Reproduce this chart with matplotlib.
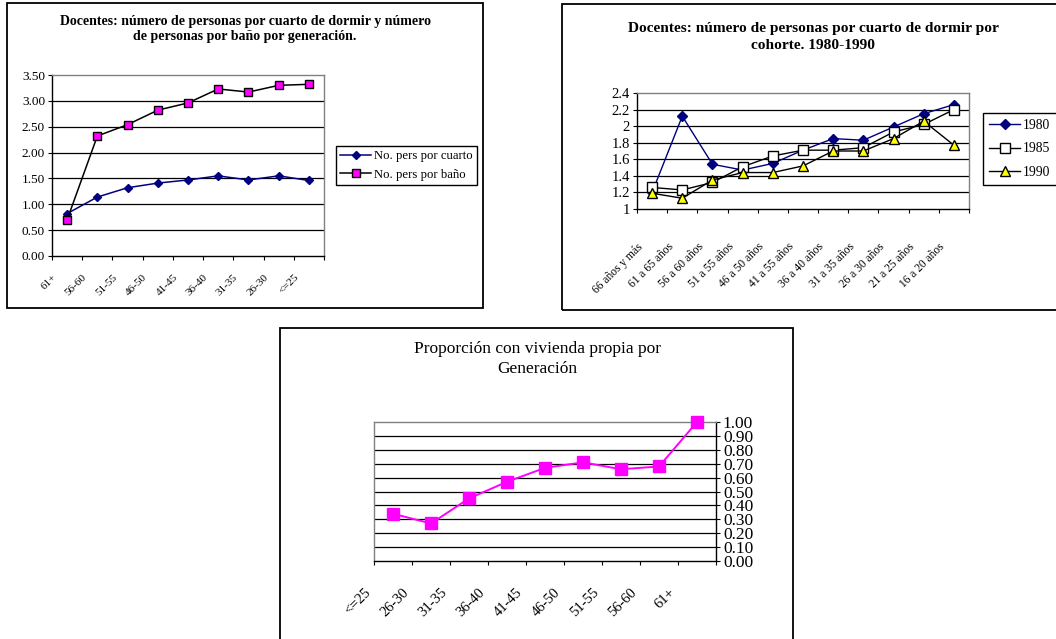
import matplotlib
matplotlib.use("Agg")
import matplotlib.pyplot as plt
import matplotlib.transforms as mtrans
from matplotlib.patches import Rectangle
import numpy as np

W, H = 1056, 639

# chart 1: docentes por generacion
gen_labels = ["61+", "56-60", "51-55", "46-50", "41-45", "36-40", "31-35", "26-30", "<=25"]
pers_cuarto = [0.82, 1.14, 1.32, 1.41, 1.47, 1.55, 1.47, 1.55, 1.46]
pers_bano = [0.70, 2.32, 2.54, 2.82, 2.96, 3.23, 3.17, 3.30, 3.32]

# chart 2: cohortes 1980-1990
cohort_labels = ["66 años y más", "61 a 65 años", "56 a 60 años", "51 a 55 años",
                 "46 a 50 años", "41 a 55 años", "36 a 40 años", "31 a 35 años",
                 "26 a 30 años", "21 a 25 años", "16 a 20 años"]
y1980 = [1.20, 2.12, 1.54, 1.47, 1.55, 1.71, 1.85, 1.83, 1.99, 2.15, 2.26]
y1985 = [1.26, 1.23, 1.32, 1.51, 1.64, 1.71, 1.71, 1.74, 1.93, 2.02, 2.20]
y1990 = [1.19, 1.13, 1.35, 1.44, 1.44, 1.52, 1.70, 1.70, 1.85, 2.06, 1.77]

# chart 3: vivienda propia
viv_labels = ["<=25", "26-30", "31-35", "36-40", "41-45", "46-50", "51-55", "56-60", "61+"]
viv_propia = [0.34, 0.27, 0.45, 0.57, 0.67, 0.71, 0.66, 0.68, 1.00]

plt.rcParams["font.family"] = "Liberation Serif"
GRAY = "#808080"


def px_rect(x0, y0, x1, y1):
    return [x0 / W, 1 - y1 / H, (x1 - x0) / W, (y1 - y0) / H]


def frame(fig, x0, y0, x1, y1):
    fig.patches.append(Rectangle((x0 / W, 1 - y1 / H), (x1 - x0) / W, (y1 - y0) / H,
                                 transform=fig.transFigure, fill=False,
                                 edgecolor="black", linewidth=1.3))


def excel_axes(ax, n, ylim, yticks, ylabels, label_list, yfs, xfs, pad, right=False):
    # categories sit between tick marks, labels sit on the tick marks
    ax.set_xlim(0, n)
    ax.set_ylim(*ylim)
    ax.set_yticks(yticks)
    ax.set_yticklabels(ylabels, fontsize=yfs)
    ax.set_xticks(np.arange(n + 1))
    ax.set_xticklabels(list(label_list) + [""] * (n + 1 - len(label_list)),
                       rotation=45, ha="right", rotation_mode="anchor", fontsize=xfs)
    ax.tick_params(axis="x", length=3, pad=pad, color="black")
    ax.tick_params(axis="y", length=3, pad=2, color="black")
    for y in yticks[1:-1]:
        ax.axhline(y, color="black", linewidth=0.9, zorder=1)
    for s in ax.spines.values():
        s.set_color(GRAY)
        s.set_linewidth(1.0)
    ax.spines["bottom"].set_color("black")
    if right:
        ax.yaxis.tick_right()
        ax.spines["right"].set_color("black")
    else:
        ax.spines["left"].set_color("black")


fig = plt.figure(figsize=(W / 100, H / 100), dpi=100)

# ---- chart 1
frame(fig, 7, 3, 483, 308)
ax1 = fig.add_axes(px_rect(52, 75, 324, 256))
x = np.arange(len(gen_labels)) + 0.5
yt = np.arange(0, 3.51, 0.5)
excel_axes(ax1, len(gen_labels), (0, 3.5), yt, ["%.2f" % v for v in yt], gen_labels, 9.5, 8, 9)
ax1.plot(x, pers_cuarto, color="#000080", marker="D", markersize=4.5, linewidth=1.1,
         label="No. pers por cuarto", zorder=3)
ax1.plot(x, pers_bano, color="black", marker="s", markersize=6, markerfacecolor="#ff00ff",
         markeredgecolor="black", linewidth=1.1, label="No. pers por baño", zorder=3)
ax1.legend(loc="upper left", bbox_to_anchor=(336 / W, 1 - 146 / H), bbox_transform=fig.transFigure,
           fontsize=9.2, frameon=True, fancybox=False, edgecolor="black", framealpha=1,
           handlelength=2.4, borderpad=0.35, labelspacing=0.5, handletextpad=0.2,
           borderaxespad=0)
fig.text(245 / W, 1 - 29 / H, "Docentes: número de personas por cuarto de dormir y número\n"
         "de personas por baño por generación.", ha="center", va="center",
         fontsize=10, fontweight="bold", linespacing=1.15)

# ---- chart 2
frame(fig, 562, 4, 1060, 310)
ax2 = fig.add_axes(px_rect(637, 93, 969, 209))
x = np.arange(len(cohort_labels)) + 0.5
yt = np.round(np.arange(1, 2.41, 0.2), 1)
excel_axes(ax2, len(cohort_labels), (1, 2.4), yt, ["%g" % v for v in yt], cohort_labels,
           10.5, 8.3, 20)
ax2.plot(x, y1980, color="#000080", marker="D", markersize=5, linewidth=1.0, label="1980", zorder=3)
ax2.plot(x, y1985, color="black", marker="s", markersize=7, markerfacecolor="white",
         markeredgecolor="black", linewidth=1.0, label="1985", zorder=3)
ax2.plot(x, y1990, color="black", marker="^", markersize=7, markerfacecolor="#ffff00",
         markeredgecolor="black", linewidth=1.0, label="1990", zorder=3)
ax2.legend(loc="upper left", bbox_to_anchor=(983 / W, 1 - 113 / H), bbox_transform=fig.transFigure,
           fontsize=9.8, frameon=True, fancybox=False, edgecolor="black", framealpha=1,
           handlelength=2.3, borderpad=0.45, labelspacing=0.75, handletextpad=0.2,
           borderaxespad=0)
fig.text(813 / W, 1 - 37 / H, "Docentes: número de personas por cuarto de dormir por\n"
         "cohorte. 1980-1990", ha="center", va="center",
         fontsize=11.1, fontweight="bold", linespacing=1.36)

# ---- chart 3
frame(fig, 280, 328, 793, 645)
ax3 = fig.add_axes(px_rect(374, 422, 716, 561))
x = np.arange(len(viv_labels)) + 0.5
yt = np.round(np.arange(0, 1.01, 0.1), 1)
excel_axes(ax3, len(viv_labels), (0, 1.0), yt, ["%.2f" % v for v in yt], viv_labels,
           12.5, 10.5, 15, right=True)
shift = mtrans.ScaledTranslation(-10 / 100, 0, fig.dpi_scale_trans)
for lab in ax3.get_xticklabels():
    lab.set_transform(lab.get_transform() + shift)
ax3.plot(x, viv_propia, color="#ff00ff", marker="s", markersize=8, linewidth=1.4, zorder=3,
         clip_on=False)
fig.text(537 / W, 1 - 359 / H, "Proporción con vivienda propia por\nGeneración",
         ha="center", va="center", fontsize=12.5, linespacing=1.3)

fig.savefig("out.png", dpi=100)
